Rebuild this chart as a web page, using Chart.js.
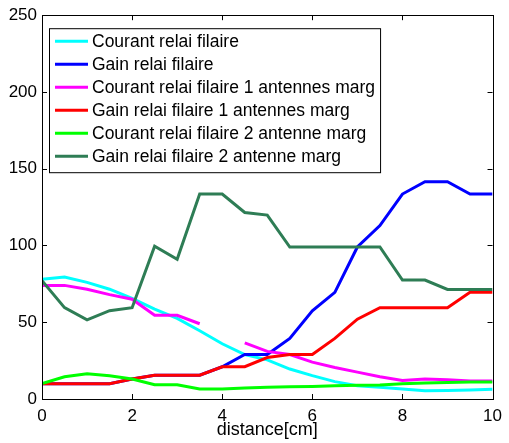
<!DOCTYPE html>
<html>
<head>
<meta charset="utf-8">
<script src="https://cdn.jsdelivr.net/npm/chart.js@4.4.0/dist/chart.umd.min.js"></script>
<style>
  html, body { margin: 0; padding: 0; background: #fff; }
  #wrap { width: 509px; height: 443px; }
</style>
</head>
<body>
<div id="wrap"><canvas id="relaiChart" width="509" height="443"></canvas></div>
<script>
'use strict';

// --- donnees ---
const DISTANCE = [0, 0.5, 1, 1.5, 2, 2.5, 3, 3.5, 4, 4.5, 5, 5.5, 6, 6.5, 7, 7.5, 8, 8.5, 9, 9.5, 10];

const courantFilaire = [78, 79.5, 76, 71.5, 65.5, 58.5, 52.5, 44.5, 36, 29, 25.5, 19.5, 15.2, 11.3, 8.7, 7.6, 6.5, 5.4, 5.6, 5.8, 6.3];
const gainFilaire    = [10, 10, 10, 10, 13, 15.5, 15.5, 15.5, 21, 29, 29, 39.5, 57.5, 69.5, 99, 113, 133.5, 141.5, 141.5, 133.5, 133.5];
const courant1Ant    = [74, 74, 71.5, 68, 65, 54.5, 54.5, 49, null, 36.5, 31, 29, 24, 20.5, 17.5, 14.5, 12, 13, 12.6, 11.8, 11.8];
const gain1Ant       = [10, 10, 10, 10, 13, 15.5, 15.5, 15.5, 21, 21, 27, 29, 29, 39.5, 52, 59.5, 59.5, 59.5, 59.5, 69.5, 69.5];
const courant2Ant    = [10, 14.5, 16.5, 15.2, 13, 9.3, 9.3, 6.5, 6.5, 7.2, 7.6, 8, 8.2, 8.7, 9, 9.1, 10, 10.4, 10.8, 11, 11];
const gain2Ant       = [77, 59.5, 51.5, 57.5, 59.5, 99.5, 91, 133.5, 133.5, 121.5, 119.8, 99, 99, 99, 99, 99, 77.5, 77.5, 71.4, 71.4, 71.4];

const SERIES_LABELS = [
  'Courant relai filaire',
  'Gain relai filaire',
  'Courant relai filaire 1 antennes marg',
  'Gain relai filaire 1 antennes marg',
  'Courant relai filaire 2 antenne marg',
  'Gain relai filaire 2 antenne marg',
];
const SERIES_VALUES = [courantFilaire, gainFilaire, courant1Ant, gain1Ant, courant2Ant, gain2Ant];
const SERIES_COLORS = ['#00ffff', '#0000ff', '#ff00ff', '#ff0000', '#00ff00', '#2e7d55'];

const X_TICKS = [0, 2, 4, 6, 8, 10];
const Y_TICKS = [0, 50, 100, 150, 200, 250];

const FONT = 'Arial, "Liberation Sans", sans-serif';

function toPoints(values) {
  return DISTANCE.map((d, i) => ({ x: d, y: values[i] }));
}

// cadre + graduations vers l'interieur (style MATLAB)
const boxPlugin = {
  id: 'matlabBox',
  afterDatasetsDraw(chart) {
    const { ctx, chartArea: a, scales } = chart;
    const len = 5;
    ctx.save();
    ctx.strokeStyle = '#000';
    ctx.lineWidth = 1;
    ctx.beginPath();
    X_TICKS.forEach(v => {
      const px = Math.round(scales.x.getPixelForValue(v)) + 0.5;
      ctx.moveTo(px, a.bottom); ctx.lineTo(px, a.bottom - len);
      ctx.moveTo(px, a.top); ctx.lineTo(px, a.top + len);
    });
    Y_TICKS.forEach(v => {
      const py = Math.round(scales.y.getPixelForValue(v)) + 0.5;
      ctx.moveTo(a.left, py); ctx.lineTo(a.left + len, py);
      ctx.moveTo(a.right, py); ctx.lineTo(a.right - len, py);
    });
    ctx.stroke();
    ctx.strokeRect(Math.round(a.left) + 0.5, Math.round(a.top) + 0.5,
      Math.round(a.right - a.left), Math.round(a.bottom - a.top));
    ctx.restore();
  },
};

// legende encadree dans le coin haut-gauche
const legendPlugin = {
  id: 'insideLegend',
  afterDraw(chart) {
    const { ctx, chartArea: a } = chart;
    const sets = chart.data.datasets;
    const left = a.left + 7, top = a.top + 13;
    const rowH = 23, lineLen = 33, gap = 4;
    ctx.save();
    ctx.font = '17.5px ' + FONT;
    const maxW = Math.max(...sets.map(s => ctx.measureText(s.label).width));
    const w = 6 + lineLen + gap + maxW + 5;
    const h = sets.length * rowH + 6;
    ctx.fillStyle = '#fff';
    ctx.fillRect(left, top, w, h);
    ctx.strokeStyle = '#000';
    ctx.lineWidth = 1;
    ctx.strokeRect(left + 0.5, top + 0.5, w, h);
    ctx.textBaseline = 'middle';
    sets.forEach((s, i) => {
      const y = top + 13 + i * rowH;
      ctx.strokeStyle = s.borderColor;
      ctx.lineWidth = 3;
      ctx.beginPath();
      ctx.moveTo(left + 6, y);
      ctx.lineTo(left + 6 + lineLen, y);
      ctx.stroke();
      ctx.fillStyle = '#000';
      ctx.fillText(s.label, left + 6 + lineLen + gap, y + 1);
    });
    ctx.restore();
  },
};

(function initRelaiChart() {
  const c = document.getElementById('relaiChart');
  if (!c) return;
  new Chart(c.getContext('2d'), {
    type: 'line',
    data: {
      datasets: SERIES_VALUES.map((vals, i) => ({
        label: SERIES_LABELS[i],
        data: toPoints(vals),
        borderColor: SERIES_COLORS[i],
        backgroundColor: SERIES_COLORS[i],
        borderWidth: 3,
        pointRadius: 0,
        tension: 0,
        fill: false,
        spanGaps: false,
        order: SERIES_VALUES.length - i,
      })),
    },
    options: {
      responsive: false,
      animation: false,
      layout: { padding: { top: 15, right: 11, left: 0, bottom: 0 } },
      plugins: {
        legend: { display: false },
        tooltip: { enabled: false },
      },
      scales: {
        x: {
          type: 'linear',
          min: 0,
          max: 10,
          afterBuildTicks: s => { s.ticks = X_TICKS.map(v => ({ value: v })); },
          afterFit: s => { s.height = 44; },
          grid: { display: false, drawTicks: false },
          border: { display: false },
          ticks: { color: '#000', font: { family: FONT, size: 17 }, padding: 7, maxRotation: 0 },
          title: {
            display: true,
            text: 'distance[cm]',
            color: '#000',
            font: { family: FONT, size: 18 },
            padding: { top: 0, bottom: 2 },
          },
        },
        y: {
          min: 0,
          max: 250,
          afterBuildTicks: s => { s.ticks = Y_TICKS.map(v => ({ value: v })); },
          afterFit: s => { s.width = 42; },
          grid: { display: false, drawTicks: false },
          border: { display: false },
          ticks: { color: '#000', font: { family: FONT, size: 17 }, padding: 5 },
        },
      },
    },
    plugins: [boxPlugin, legendPlugin],
  });
})();
</script>
</body>
</html>
